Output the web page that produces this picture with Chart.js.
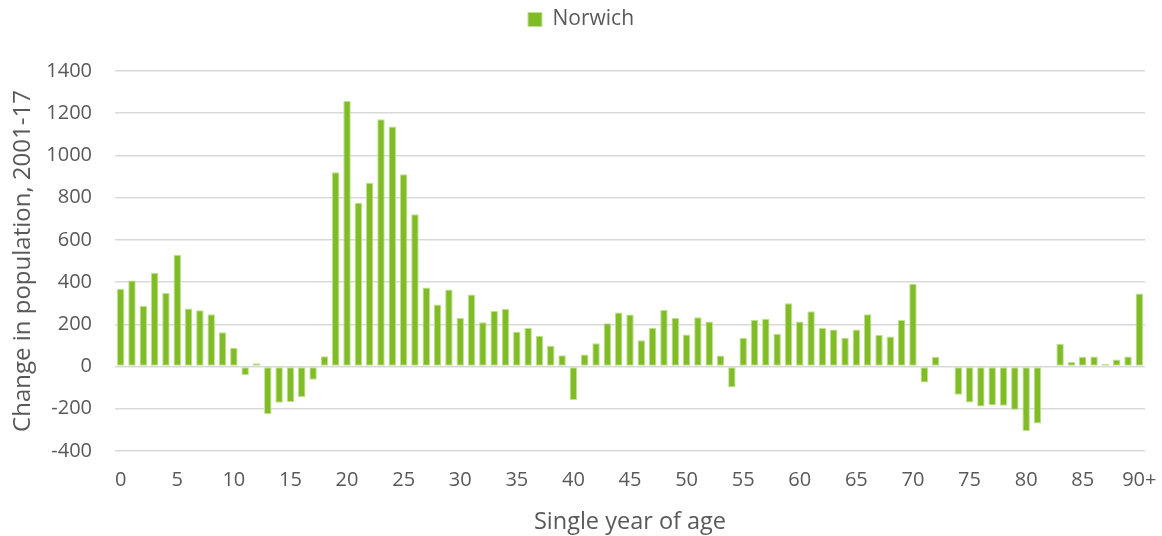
<!DOCTYPE html>
<html>
<head>
<meta charset="utf-8">
<script src="https://cdn.jsdelivr.net/npm/chart.js@4.4.1/dist/chart.umd.min.js"></script>
<style>
  html, body { margin: 0; padding: 0; background: #ffffff; }
  #wrap { width: 1162px; height: 536px; position: relative; }
</style>
</head>
<body>
<div id="wrap"><canvas id="c" width="1162" height="536"></canvas></div>
<script>
// ---- data ----
const ageLabels = [];
for (let a = 0; a <= 89; a++) ageLabels.push(String(a));
ageLabels.push('90+');

const seriesName = 'Norwich';
const populationChange = [
  368, 408, 287, 444, 349, 530, 275, 267, 248, 162,
  89, -40, 16, -225, -171, -168, -144, -62, 49, 920,
  1258, 776, 871, 1171, 1137, 911, 721, 374, 294, 365,
  230, 341, 210, 263, 273, 165, 183, 146, 98, 54,
  -159, 57, 110, 205, 256, 246, 125, 184, 268, 230,
  152, 233, 213, 52, -98, 137, 222, 227, 155, 300,
  213, 262, 183, 175, 137, 175, 248, 149, 142, 221,
  392, -76, 46, 0, -133, -170, -189, -183, -186, -205,
  -305, -270, 0, 108, 22, 46, 48, 13, 33, 48,
  346
];

const yMin = -400, yMax = 1400, yStep = 200;
const xTitle = 'Single year of age';
const yTitle = 'Change in population, 2001-17';

// ---- chart ----
const textColor = '#595959';
const fontFamily = '"Open Sans", "DejaVu Sans", sans-serif';

const legendHeight = {
  id: 'legendHeight',
  beforeInit(chart) {
    const origFit = chart.legend.fit;
    chart.legend.fit = function () {
      origFit.call(this);
      this.height = 71;
    };
  }
};

new Chart(document.getElementById('c'), {
  type: 'bar',
  data: {
    labels: ageLabels,
    datasets: [{
      label: seriesName,
      data: populationChange,
      backgroundColor: '#80bc26',
      borderColor: '#bfe08f',
      borderWidth: 1,
      borderSkipped: false,
      barPercentage: 0.66,
      categoryPercentage: 1.0
    }]
  },
  options: {
    responsive: false,
    animation: false,
    devicePixelRatio: 1,
    layout: { padding: { left: 0, right: 0, top: 0, bottom: 0 } },
    plugins: {
      legend: {
        position: 'top',
        labels: {
          boxWidth: 14,
          boxHeight: 14,
          padding: 9,
          color: textColor,
          font: { family: fontFamily, size: 21 }
        }
      },
      tooltip: { enabled: false }
    },
    scales: {
      x: {
        grid: { display: false, drawTicks: false },
        border: { display: false },
        ticks: {
          autoSkip: false,
          maxRotation: 0,
          minRotation: 0,
          padding: 17,
          color: textColor,
          font: { family: fontFamily, size: 20 },
          callback: function (v, i) { return i % 5 === 0 ? ageLabels[i] : ''; }
        },
        title: {
          display: true,
          text: xTitle,
          color: textColor,
          font: { family: fontFamily, size: 23.5, lineHeight: 1.2 },
          padding: { top: 0, bottom: 0 }
        },
        afterFit(scale) {
          scale.height = 85;
          scale.paddingLeft = 0;
          scale.paddingRight = 17;
        }
      },
      y: {
        min: yMin,
        max: yMax,
        grid: { color: '#d9d9d9', lineWidth: 1.5, drawTicks: false },
        border: { display: false },
        ticks: {
          stepSize: yStep,
          padding: 23,
          color: textColor,
          font: { family: fontFamily, size: 20 },
          callback: function (v) { return String(v); }
        },
        title: {
          display: true,
          text: yTitle,
          color: textColor,
          font: { family: fontFamily, size: 24, lineHeight: 1.2 },
          padding: { top: 9, bottom: 0 }
        },
        afterFit(scale) { scale.width = 115; }
      }
    }
  },
  plugins: [legendHeight]
});
</script>
</body>
</html>
